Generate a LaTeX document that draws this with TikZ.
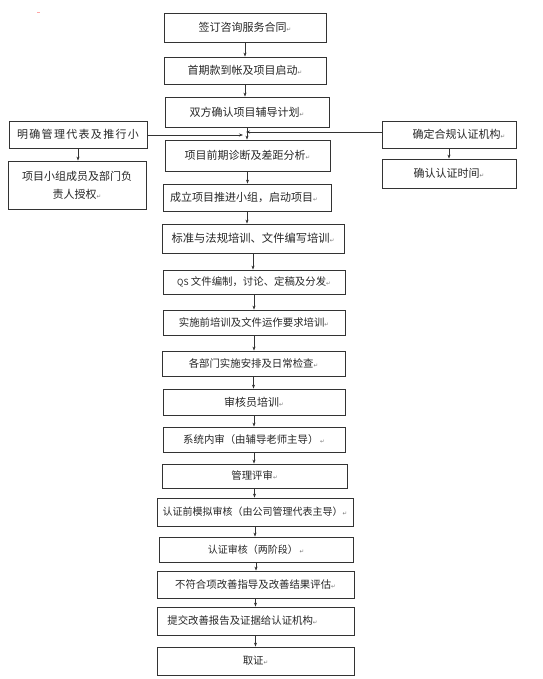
\documentclass[tikz,border=0pt]{standalone}
\usepackage{fontspec}
\setmainfont{Noto Sans CJK SC}
\newfontfamily\wide[LetterSpace=12]{Noto Sans CJK SC}
\newfontfamily\dejavu{DejaVu Sans}
\usetikzlibrary{arrows.meta}
\newcommand\pmark{{\dejavu\fontsize{5.5}{6}\selectfont\color{black!55}↵}}
\begin{document}
\begin{tikzpicture}[x=1pt,y=-1pt,
  box/.style={draw=black!80,line width=0.8pt,inner sep=1pt,
    font=\fontsize{11}{18}\selectfont,text=black!85},
  sm/.style={font=\fontsize{10.4}{18}\selectfont},
  arr/.style={draw=black!80,line width=0.7pt,-{Stealth[length=4pt,width=3pt]}}]
\useasboundingbox (0,0) rectangle (542,679);
\fill[red!35] (37,12) rectangle (40,13);
% main column
\node[box,minimum width=162,minimum height=29] (b1) at (245,27.5) {签订咨询服务合同\pmark};
\node[box,minimum width=162,minimum height=27] (b2) at (245,70.5) {首期款到帐及项目启动\pmark};
\node[box,minimum width=164,minimum height=30] (b3) at (247,112) {双方确认项目辅导计划\pmark};
\node[box,minimum width=165,minimum height=31] (b4) at (247.5,155.5) {项目前期诊断及差距分析\pmark};
\node[box,minimum width=168,minimum height=27] (b5) at (247,197.5) {成立项目推进小组，启动项目\pmark\hspace*{6pt}};
\node[box,minimum width=182,minimum height=29,font=\fontsize{11.3}{18}\selectfont] (b6) at (253,238.5) {标准与法规培训、文件编写培训\pmark};
\node[box,sm,minimum width=182,minimum height=24] (b7) at (254,282) {{\fontsize{8.5}{10}\selectfont QS} 文件编制，讨论、定稿及分发\pmark};
\node[box,sm,minimum width=182,minimum height=25] (b8) at (254,322.5) {实施前培训及文件运作要求培训\pmark};
\node[box,sm,minimum width=183,minimum height=25] (b9) at (253.5,363.5) {各部门实施安排及日常检查\pmark};
\node[box,minimum width=182,minimum height=26] (b10) at (254,402) {审核员培训\pmark};
\node[box,sm,minimum width=182,minimum height=25] (b11) at (254,439.5) {系统内审（由辅导老师主导）\,\pmark};
\node[box,sm,minimum width=185,minimum height=24] (b12) at (254.5,476) {管理评审\pmark};
\node[box,minimum width=196,minimum height=28,font=\fontsize{10}{18}\selectfont] (b13) at (255,512) {认证前模拟审核（由公司管理代表主导）\pmark};
\node[box,minimum width=194,minimum height=25,font=\fontsize{10}{18}\selectfont] (b14) at (256,549.5) {认证审核（两阶段）\,\pmark};
\node[box,sm,minimum width=197,minimum height=27] (b15) at (255.5,584.5) {不符合项改善指导及改善结果评估\pmark};
\node[box,sm,minimum width=197,minimum height=28] (b16) at (255.5,621) {提交改善报告及证据给认证机构\pmark\hspace*{26pt}};
\node[box,sm,minimum width=197,minimum height=28] (b17) at (255.5,661) {取证\pmark};
% side boxes
\node[box,minimum width=138,minimum height=27] (L1) at (78,134.5) {\wide 明确管理代表及推行小};
\node[box,minimum width=138,minimum height=48,align=center] (L2) at (77,185) {项目小组成员及部门负\\责人授权\pmark};
\node[box,minimum width=134,minimum height=27] (R1) at (449,134.5) {\hspace*{20pt}确定合规认证机构\pmark};
\node[box,minimum width=134,minimum height=29] (R2) at (449,173.5) {确认认证时间\pmark};
% connectors
\foreach \a/\b in {b1/b2,b2/b3,b3/b4,b4/b5,b5/b6,b6/b7,b7/b8,b8/b9,b9/b10,b10/b11,b11/b12,b12/b13,b13/b14,b14/b15,b15/b16,b16/b17,L1/L2,R1/R2}
  \draw[arr] (\a.south) -- (\a.south |- \b.north);
\coordinate (mL) at (243,135);
\coordinate (mR) at (246,132);
\draw[arr] (L1.east |- mL) -- (mL);
\draw[arr] (R1.west |- mR) -- (mR);
\end{tikzpicture}
\end{document}
